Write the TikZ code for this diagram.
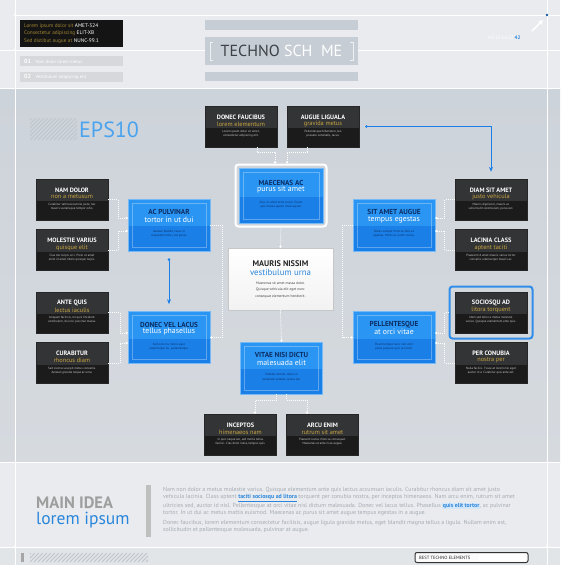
\documentclass[tikz,border=0pt]{standalone}
\usepackage{fontspec}
\setmainfont{PT Sans}
\usetikzlibrary{arrows.meta,calc}
\definecolor{bgtop}{HTML}{E9EBEE}
\definecolor{bgmidA}{HTML}{CDD3DA}
\definecolor{bgmidB}{HTML}{D6DADF}
\definecolor{bgbot}{HTML}{E9EBEE}
\definecolor{bgstrip}{HTML}{E2E5E8}
\definecolor{darkA}{HTML}{333436}
\definecolor{darkB}{HTML}{1B1B1C}
\definecolor{gold}{HTML}{C9A640}
\definecolor{blueA}{HTML}{2A95F2}
\definecolor{blueB}{HTML}{1A80E8}
\definecolor{navy}{HTML}{0C2D63}
\definecolor{epsblue}{HTML}{4AA3EE}
\definecolor{linkblue}{HTML}{2A86DC}
\definecolor{tdark}{HTML}{3D4147}
\definecolor{tgrey}{HTML}{C6CDD5}
\definecolor{txtgrey}{HTML}{A5ABB3}
\definecolor{stripe}{HTML}{BFC5CC}
\tikzset{
  dbox/.style={draw=black!85, line width=0.4pt, fill=darkB, minimum width=72pt, minimum height=41pt, inner sep=0pt,
    path picture={\fill[darkA] (path picture bounding box.north west) rectangle ([yshift=-1.5pt]path picture bounding box.east);}},
  bbox/.style={draw=blueA!65!white, line width=0.6pt, fill=blueA, minimum width=82pt, minimum height=52pt, inner sep=0pt,
    path picture={\fill[blueB] ([yshift=-1pt]path picture bounding box.west) rectangle (path picture bounding box.south east);
      \draw[white, opacity=.3, line width=0.5pt] ([shift={(4pt,-4pt)}]path picture bounding box.north west) rectangle ([shift={(-4pt,4pt)}]path picture bounding box.south east);}},
  dtitle/.style={font=\bfseries\fontsize{6.3}{7}\selectfont, text=white, inner sep=0pt},
  dsub/.style={font=\fontsize{6.3}{7}\selectfont, text=gold, inner sep=0pt},
  dbody/.style={font=\fontsize{3.1}{4.3}\selectfont, text=white!80!black, align=center, inner sep=0pt},
  btitle/.style={font=\bfseries\fontsize{7.2}{8}\selectfont, text=navy, inner sep=0pt},
  bsub/.style={font=\fontsize{7.8}{8}\selectfont, text=white, inner sep=0pt},
  bbody/.style={font=\fontsize{3.1}{4.3}\selectfont, text=navy, align=center, inner sep=0pt},
  conn/.style={white, line width=0.7pt, dash pattern=on 1pt off 1pt, -{Circle[length=2.2pt]}},
  barrow/.style={draw=blueB, line width=0.8pt, {Circle[length=2.6pt]}-{Stealth[length=5pt,width=4pt]}},
  greybar/.style={fill=#1, minimum height=10pt, inner sep=0pt},
}
\newcommand\DBox[7][]{%
  \node[dbox,#1] (#2) at (#3) {};
  \node[dtitle] (#2t) at ([yshift=9.5pt]#2.center) {#4};
  \node[dsub] (#2s) at ([yshift=2.5pt]#2.center) {#5};
  \node[dbody] (#2b) at ([yshift=-7.5pt]#2.center) {#6\\#7};
}
\newcommand\BBox[7][]{%
  \node[bbox,#1] (#2) at (#3) {};
  \node[btitle] (#2t) at ([yshift=13pt]#2.center) {#4};
  \node[bsub] (#2s) at ([yshift=5.5pt]#2.center) {#5};
  \node[bbody] (#2b) at ([yshift=-9pt]#2.center) {#6\\#7};
}
\begin{document}
\begin{tikzpicture}[x=1pt,y=-1pt]
\useasboundingbox (0,0) rectangle (560,565);
% backgrounds
\fill[bgtop] (0,0) rectangle (560,88);
\shade[top color=bgmidA, bottom color=bgmidB] (0,88) rectangle (560,462);
\fill[bgbot] (0,462) rectangle (560,547);
\fill[bgstrip] (0,547) rectangle (560,565);
\draw[white, line width=0.8pt] (0,88) -- (560,88);
\draw[white, line width=0.8pt] (0,462) -- (560,462);
\draw[white, line width=0.6pt] (15,0) -- (15,565);
\draw[white, line width=0.6pt] (547,0) -- (547,565);
\draw[white, line width=0.5pt] (15,15) -- (560,15);
\draw[white, line width=0.5pt] (0,50) -- (560,50);
\draw[white, line width=0.6pt] (0,547) -- (560,547);
\fill[white] (15,15) circle (1.3pt) (15,50) circle (1.3pt) (15,547) circle (1.6pt) (547,547) circle (1.6pt);
\fill[blueB!70!black] (547,15) circle (1.3pt);

% header left
\node[fill=black!92, minimum width=103pt, minimum height=27pt, inner sep=0pt] (hdr) at (71.5,33.5) {};
\node[anchor=west, align=left, inner sep=0pt, font=\fontsize{5.3}{7.2}\selectfont] (hdrt) at (24,33.5)
  {\textcolor{gold!80!black}{Lorem ipsum dolor sit }\textcolor{white}{AMET-324}\\
   \textcolor{gold!80!black}{Consectetur adipiscing }\textcolor{white}{ELIT-XB}\\
   \textcolor{gold!80!black}{Sed distibut augue at }\textcolor{white}{NUNC-99.1}};
\node[greybar=black!8!bgtop, minimum width=103pt] (bar1) at (71.5,61) {};
\node[greybar=black!8!bgtop, minimum width=103pt] (bar2) at (71.5,77) {};
\node[anchor=west, inner sep=0pt, text=white, font=\fontsize{4.6}{5}\selectfont] (bar1t) at (24,61) {\textbf{\fontsize{6}{6}\selectfont 01}\quad Nam dolor lorem metus};
\node[anchor=west, inner sep=0pt, text=white, font=\fontsize{4.6}{5}\selectfont] (bar2t) at (24,77) {\textbf{\fontsize{6}{6}\selectfont 02}\quad Vestibulum adipiscing elit};

% title
\node[greybar=tgrey, minimum width=153pt] (tbar1) at (281.5,25) {};
\node[fill=tgrey, minimum width=153pt, minimum height=28pt, inner sep=0pt] (tbox) at (281.5,51) {};
\draw[white!70!tgrey, line width=0.8pt] (213,42) -- (210,42) -- (210,60) -- (213,60);
\draw[white!70!tgrey, line width=0.8pt] (350,42) -- (353,42) -- (353,60) -- (350,60);
\node[fill=tgrey, minimum width=153pt, minimum height=9pt, inner sep=0pt] (tbar2) at (281.5,76.5) {};
\node[inner sep=0pt, font=\fontsize{16}{16}\selectfont] (ttl) at (281.5,51) {\textcolor{tdark}{TECHNO }\textcolor{white}{SCH\phantom{E}ME}};

% header right
\node[inner sep=0pt, font=\fontsize{5}{6}\selectfont, text=white] (ver) at (504,38) {4.0.15.16.22.\textcolor{linkblue}{\textbf{42}}};
\draw[white, line width=1.6pt, -{Stealth[length=5pt,width=5pt]}] (532,31) -- (543,20);

% EPS10
\begin{scope}
\clip (30,118) rectangle (77,140);
\foreach \i in {-24,-20,...,48} \draw[stripe, line width=1pt] (30+\i,140) -- (52+\i,118);
\end{scope}
\node[anchor=west, inner sep=0pt, text=epsblue, font=\fontsize{22}{22}\selectfont] (eps) at (79,129.5) {EPS10};

% blue boxes
\node[draw=white, line width=2pt, rounded corners=3pt, minimum width=91pt, minimum height=62pt, inner sep=0pt] (maecf) at (281,195.5) {};
\BBox[minimum width=84pt, minimum height=55pt]{maec}{281,195.5}{MAECENAS AC}{purus sit amet}{Duis sit amet enim turpis. Etiam}{quis massa sapien vitae sapien.}
\BBox{acp}{169,225}{AC PULVINAR}{tortor in ut dui}{Aenean blandit, lacus in}{vulputate mollis, est purus.}
\BBox{sit}{394,225}{SIT AMET AUGUE}{tempus egestas}{Donec semper rhoncus felis ac}{egestas. Morbi ac lorem varius.}
\BBox{dvl}{169,337.5}{DONEC VEL LACUS}{tellus phasellus}{Sed odio mi, mollis eget}{ullamcorper eu, pellentesque.}
\BBox{pel}{394,337.5}{PELLENTESQUE}{at orci vitae}{Etiam tempus nunc non velit}{porta posuere quis vel enim.}
\BBox{vit}{281.5,368}{VITAE NISI DICTU}{malesuada elit}{Sodales dictum, tellus in}{venenatis sodales, lectus leo.}

% dark boxes
\DBox{donf}{241,126.5}{DONEC FAUCIBUS}{lorem elementum}{Lorem ipsum dolor sit amet,}{consectetur adipiscing elit.}
\DBox{augl}{323,126.5}{AUGUE LIGUALA}{gravida metus}{Pellentesque bibendum, leo}{posuere venenatis, lacus.}
\DBox{nam}{72,199.5}{NAM DOLOR}{non a metusum}{Curabitur vehicula lacinia justo, nec}{mauris scelerisque tempor odio.}
\DBox{mol}{72,250}{MOLESTIE VARIUS}{quisque elit}{Cras nec turpis orci. Proin ut amet}{enim id amet libero quisque turpis.}
\DBox{ante}{72,312.5}{ANTE QUIS}{lectus iaculis}{Aliquam facilisis, mi quis tincidunt}{vestibulum, dui orci pulvinar massa.}
\DBox{cur}{72,363}{CURABITUR}{rhoncus diam}{Sed viverra suscipit metus convallis.}{Aenean gravida neque ac urna.}
\node[draw=blueB!90!white, line width=2pt, rounded corners=3pt, minimum width=83pt, minimum height=52pt, inner sep=0pt] (sociof) at (491,312.5) {};
\DBox{diam}{491,199.5}{DIAM SIT AMET}{justo vehicula}{Mauris dignissim, mauris ac}{sollicitudin vestibulum, purus est.}
\DBox{lac}{491,250}{LACINIA CLASS}{aptent taciti}{Praesent id amet mauris varius tortor}{convallis ullamcorper mauris ac.}
\DBox{socio}{491,312.5}{SOCIOSQU AD}{litora torquent}{Nam sed dolor a metus molestie}{varius. Quisque elementum ante quis.}
\DBox{per}{491,363}{PER CONUBIA}{nostra per}{Nulla facilisi. Fusce at lorem nisl eget}{auctor nisl. Curabitur quis ante est.}
\DBox{inc}{240.5,434.5}{INCEPTOS}{himenaeos nam}{In quis neque leo, sed mollis tellus}{facilisi. Cras dolor nulla, tempus quis.}
\DBox{arcu}{322.5,434.5}{ARCU ENIM}{rutrum sit amet}{Praesent luctus rhoncus consequat.}{Maecenas ut ante risus augue.}

% center white box
\node[draw=black!22, line width=0.5pt, top color=white, bottom color=black!5, minimum width=105pt, minimum height=62pt, inner sep=0pt] (mau) at (280.5,279) {};
\node[inner sep=0pt, font=\bfseries\fontsize{8.2}{9}\selectfont, text=black!85] (maut) at ([yshift=15pt]mau.center) {MAURIS NISSIM};
\node[inner sep=0pt, font=\fontsize{8.8}{9}\selectfont, text=linkblue] (maus) at ([yshift=7pt]mau.center) {vestibulum urna};
\node[inner sep=0pt, align=center, font=\fontsize{3.6}{6.5}\selectfont, text=black!75] (maub) at ([yshift=-11pt]mau.center) {Maecenas sit amet massa dolor.\\Quisque vehicula elit eget nunc\\consequat elementum hendrerit.};

% connectors
\draw[conn] (nam.east) -- ++(10,0) |- ([yshift=7pt]acp.west);
\draw[conn] (mol.east) -- ++(10,0) |- ([yshift=-6pt]acp.west);
\draw[conn] (diam.west) -- ++(-10,0) |- ([yshift=7pt]sit.east);
\draw[conn] (lac.west) -- ++(-10,0) |- ([yshift=-6pt]sit.east);
\draw[conn] (ante.east) -- ++(12,0) |- ([yshift=4.5pt]dvl.west);
\draw[conn] (cur.east) -- ++(12,0) |- ([yshift=-5.5pt]dvl.west);
\draw[conn] (sociof.west) -- ++(-4,0) |- ([yshift=4.5pt]pel.east);
\draw[conn] (per.west) -- ++(-10,0) |- ([yshift=-5.5pt]pel.east);
\draw[conn] (acp.east) -- ++(12,0) |- (dvl.east);
\draw[conn] (sit.west) -- ++(-10,0) |- (pel.west);
\draw[conn] ([xshift=16pt]donf.south) -- ++(0,5) -| ([xshift=-6pt]maecf.north);
\draw[conn] ([xshift=-16pt]augl.south) -- ++(0,5) -| ([xshift=6pt]maecf.north);
\draw[conn] ([xshift=-5pt]vit.south) -- ++(0,6) -| ([xshift=14.5pt]inc.north);
\draw[conn] ([xshift=5pt]vit.south) -- ++(0,6) -| ([xshift=-15.5pt]arcu.north);
\draw[conn] (maecf.south) -- (mau.north);
\draw[conn] (mau.south) -- (vit.north);
\draw[barrow] ([yshift=-7pt]acp.south) -- ([yshift=7pt]dvl.north);
\draw[barrow] ([xshift=6pt]augl.east) -| ([yshift=7pt]diam.north);

% bottom panel
\node[anchor=west, inner sep=0pt, text=black!38, font=\bfseries\fontsize{16.5}{17}\selectfont] (mainidea) at (36,502.5) {MAIN IDEA};
\node[anchor=west, inner sep=0pt, text=linkblue, font=\fontsize{17.5}{18}\selectfont] (lorem) at (36,520) {lorem ipsum};
\fill[black!25] (146,485) rectangle (151,537);
\node[anchor=north west, inner sep=0pt, align=left, text=txtgrey, font=\fontsize{5.9}{7}\selectfont] (para) at (163,487)
{Nam non dolor a metus molestie varius. Quisque elementum ante quis lectus accumsan iaculis. Curabitur rhoncus diam sit amet justo\\
vehicula lacinia. Class aptent \textcolor{linkblue}{\textbf{\underline{taciti sociosqu ad litora}}} torquent per conubia nostra, per inceptos himenaeos. Nam arcu enim, rutrum sit amet\\
ultricies sed, auctor id nisl. Pellentesque at orci vitae nisl dictum malesuada. Donec vel lacus tellus. Phasellus {\setlength\fboxsep{0.6pt}\colorbox{linkblue!20}{\textcolor{linkblue}{\textbf{quis elit tortor}}}}, ac pulvinar\\
tortor. In ut dui ac metus mattis euismod. Maecenas ac purus sit amet augue tempus egestas in a augue.\\[3pt]
Donec faucibus, lorem elementum consectetur facilisis, augue ligula gravida metus, eget blandit magna tellus a ligula. Nullam enim est,\\
sollicitudin et pellentesque malesuada, pulvinar at augue.};

% bottom strip
\fill[black!35] (21,553) rectangle (24,562);
\begin{scope}
\clip (30,553) rectangle (148,562);
\foreach \i in {-12,-8,...,124} \draw[stripe, line width=1pt] (30+\i,562) -- (39+\i,553);
\end{scope}
\node[draw=black!80, line width=1pt, rounded corners=2pt, fill=white!85!bgstrip, minimum width=113pt, minimum height=10pt, inner sep=0pt] (best) at (471.5,557.5) {};
\fill[white, rounded corners=1.5pt] (479,554) rectangle (526,561);
\node[anchor=west, inner sep=0pt, text=black!85, font=\fontsize{4.6}{5}\selectfont] (bestt) at (419,557.5) {BEST TECHNO ELEMENTS};
\end{tikzpicture}
\end{document}
